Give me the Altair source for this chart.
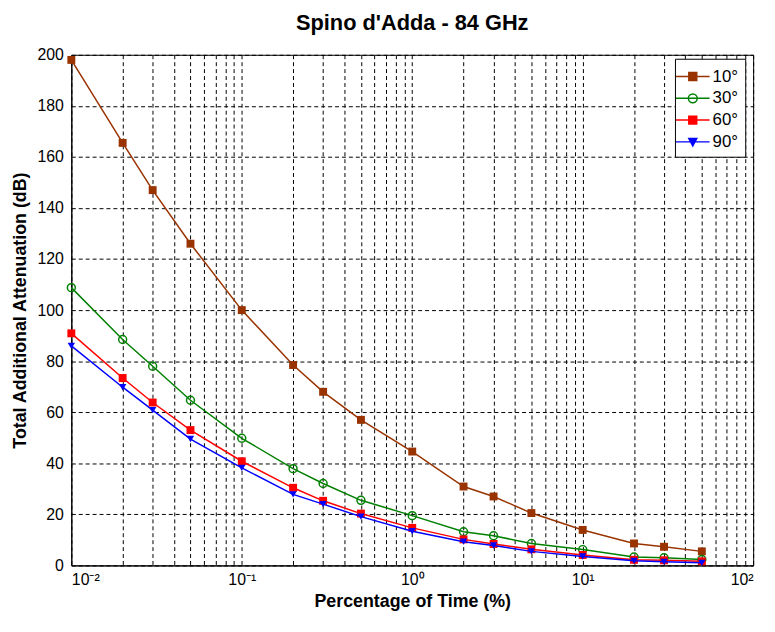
import altair as alt
import pandas as pd

# ---- data ----
pct = [0.01, 0.02, 0.03, 0.05, 0.1, 0.2, 0.3, 0.5, 1, 2, 3, 5, 10, 20, 30, 50]
att_10 = [198, 165.5, 147, 126, 100, 78.5, 68, 57, 44.6, 30.9, 27, 20.5, 13.9, 8.6, 7.3, 5.5]
att_30 = [108.8, 88.5, 78, 64.7, 49.8, 37.9, 32.1, 25.5, 19.5, 13.2, 11.6, 8.6, 6.2, 3.3, 3.0, 2.3]
att_60 = [90.9, 73.4, 63.8, 53, 40.8, 30.4, 25.3, 20.3, 14.7, 10.2, 8.4, 6.3, 4.1, 2.2, 2.0, 1.6]
att_90 = [86, 69.8, 60.8, 49.5, 38.2, 27.8, 24, 19.1, 13.4, 9.3, 7.8, 5.5, 3.5, 1.8, 1.4, 1.0]

series_labels = ["10°", "30°", "60°", "90°"]
series_values = [att_10, att_30, att_60, att_90]
series_colors = ["#993300", "#008000", "#ff0000", "#0000ff"]
series_shapes = ["square", "circle", "square", "triangle-down"]
series_filled = [True, False, True, True]
series_sizes = [64, 64, 64, 55]

y_ticks = list(range(0, 201, 20))
x_ticks = [float(f"{k}e{p}") for p in range(-2, 2) for k in range(1, 10)] + [100.0]

rows = []
for lab, vals in zip(series_labels, series_values):
    for p, v in zip(pct, vals):
        rows.append({"pct": p, "att": v, "series": lab})
df = pd.DataFrame(rows)

FONT = "Liberation Sans"

common_axis = dict(
    labelFont=FONT,
    labelFontSize=16,
    labelColor="black",
    titleFont=FONT,
    titleFontSize=18,
    titleFontWeight="bold",
    titleColor="black",
    domainColor="black",
    domainWidth=1,
    ticks=False,
    grid=True,
    gridColor="black",
    gridOpacity=1,
    gridWidth=1,
    gridDash=[4, 3],
)

x_enc = alt.X(
    "pct:Q",
    scale=alt.Scale(type="log", domain=[0.01, 100], nice=False),
    axis=alt.Axis(
        values=x_ticks,
        labelExpr="datum.value == 0.01 ? '10⁻²' : datum.value == 0.1 ? '10⁻¹' : "
                  "datum.value == 1 ? '10⁰' : datum.value == 10 ? '10¹' : "
                  "datum.value == 100 ? '10²' : ''",
        title="Percentage of Time (%)",
        labelPadding=6,
        titlePadding=6,
        labelOverlap=False,
        **common_axis,
    ),
)
y_enc = alt.Y(
    "att:Q",
    scale=alt.Scale(domain=[0, 200], nice=False),
    axis=alt.Axis(
        values=y_ticks,
        title="Total Additional Attenuation (dB)",
        labelPadding=8,
        titlePadding=8,
        **common_axis,
    ),
)

layers = []
for lab, col, shp, fil, sz in zip(series_labels, series_colors, series_shapes,
                                  series_filled, series_sizes):
    base = alt.Chart(df).transform_filter(alt.datum.series == lab)
    layers.append(base.mark_line(color=col, strokeWidth=1.5).encode(x=x_enc, y=y_enc))
    layers.append(
        base.mark_point(shape=shp, filled=fil, color=col, size=sz, strokeWidth=1.5,
                        opacity=1).encode(x=x_enc, y=y_enc)
    )

# legend symbols: a horizontal line with the marker on it
leg_paths = [
    "M-1.7,0L1.7,0M-0.4,-0.4H0.4V0.4H-0.4Z",
    "M-1.7,0L1.7,0M-0.45,0A0.45,0.45 0 1,0 0.45,0A0.45,0.45 0 1,0 -0.45,0",
    "M-1.7,0L1.7,0M-0.4,-0.4H0.4V0.4H-0.4Z",
    "M-1.7,0L1.7,0M-0.4,-0.35L0.4,-0.35L0,0.4Z",
]
leg_fills = ["#993300", "transparent", "#ff0000", "#0000ff"]

legend = alt.Legend(
    title=None,
    orient="none",
    legendX=610,
    legendY=4,
    fillColor="white",
    strokeColor="black",
    padding=7,
    rowPadding=3,
    labelOffset=9,
    labelFont=FONT,
    labelFontSize=17,
    labelColor="black",
    symbolStrokeWidth=1.5,
    symbolSize=400,
    symbolOpacity=1,
)

leg_layer = alt.Chart(df).transform_filter("false").mark_point(filled=True, size=400, opacity=1).encode(
    x=x_enc,
    y=y_enc,
    shape=alt.Shape("series:N", scale=alt.Scale(domain=series_labels, range=leg_paths), legend=legend),
    fill=alt.Fill("series:N", scale=alt.Scale(domain=series_labels, range=leg_fills), legend=legend),
    stroke=alt.Stroke("series:N", scale=alt.Scale(domain=series_labels, range=series_colors), legend=legend),
)

chart = (
    alt.layer(*layers, leg_layer)
    .properties(
        width=689,
        height=516,
        background="white",
        title=alt.TitleParams(
            "Spino d'Adda - 84 GHz",
            font=FONT,
            fontSize=22,
            fontWeight="bold",
            color="black",
            anchor="middle",
            offset=12,
        ),
        autosize=alt.AutoSizeParams(type="none"),
        padding={"left": 64, "top": 44, "right": 14, "bottom": 64},
    )
    .configure_view(stroke="black", strokeWidth=1)
)

chart.save("out.html", embed_options={"renderer": "svg", "actions": False})
